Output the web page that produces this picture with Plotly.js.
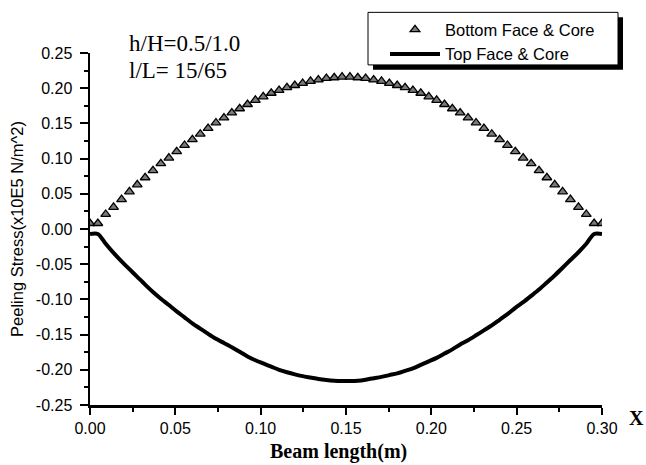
<!DOCTYPE html>
<html>
<head>
<meta charset="utf-8">
<script src="https://cdn.plot.ly/plotly-3.0.1.min.js"></script>
<style>html,body{margin:0;padding:0;background:#fff;}#chart{width:646px;height:465px;}</style>
</head>
<body>
<div id="chart"></div>
<script>
var beamX = [0, 0.0046, 0.0092, 0.0138, 0.0185, 0.0231, 0.0277, 0.0323, 0.0369, 0.0415, 0.0462, 0.0508, 0.0554, 0.0600, 0.0646, 0.0692, 0.0738, 0.0785, 0.0831, 0.0877, 0.0923, 0.0969, 0.1015, 0.1062, 0.1108, 0.1154, 0.1200, 0.1246, 0.1292, 0.1338, 0.1385, 0.1431, 0.1477, 0.1523, 0.1569, 0.1615, 0.1662, 0.1708, 0.1754, 0.1800, 0.1846, 0.1892, 0.1938, 0.1985, 0.2031, 0.2077, 0.2123, 0.2169, 0.2215, 0.2262, 0.2308, 0.2354, 0.2400, 0.2446, 0.2492, 0.2538, 0.2585, 0.2631, 0.2677, 0.2723, 0.2769, 0.2815, 0.2862, 0.2908, 0.2954, 0.3000];

var bottomFaceCore = [0.008, 0.008, 0.021, 0.031, 0.042, 0.053, 0.063, 0.073, 0.083, 0.093, 0.101, 0.110, 0.119, 0.127, 0.135, 0.143, 0.151, 0.158, 0.165, 0.171, 0.177, 0.183, 0.188, 0.193, 0.197, 0.201, 0.204, 0.207, 0.210, 0.212, 0.214, 0.215, 0.216, 0.216, 0.215, 0.214, 0.212, 0.210, 0.207, 0.204, 0.201, 0.197, 0.193, 0.188, 0.183, 0.177, 0.171, 0.165, 0.158, 0.151, 0.143, 0.135, 0.127, 0.119, 0.110, 0.101, 0.093, 0.083, 0.073, 0.063, 0.053, 0.042, 0.031, 0.021, 0.008, 0.008];

var topFaceCore = [-0.007, -0.007, -0.021, -0.034, -0.046, -0.057, -0.068, -0.079, -0.0895, -0.099, -0.108, -0.117, -0.1255, -0.134, -0.1415, -0.149, -0.156, -0.162, -0.168, -0.1745, -0.181, -0.1865, -0.191, -0.1955, -0.200, -0.2035, -0.2065, -0.209, -0.211, -0.213, -0.2145, -0.2155, -0.216, -0.216, -0.2155, -0.214, -0.212, -0.210, -0.2075, -0.205, -0.2015, -0.198, -0.193, -0.188, -0.183, -0.177, -0.171, -0.164, -0.158, -0.151, -0.144, -0.137, -0.129, -0.121, -0.112, -0.104, -0.095, -0.086, -0.076, -0.066, -0.055, -0.044, -0.033, -0.021, -0.007, -0.007];

var xTickVals = [0, 0.05, 0.10, 0.15, 0.20, 0.25, 0.30];
var xTickText = ['0.00', '0.05', '0.10', '0.15', '0.20', '0.25', '0.30'];
var yTickVals = [-0.25, -0.20, -0.15, -0.10, -0.05, 0, 0.05, 0.10, 0.15, 0.20, 0.25];
var yTickText = ['-0.25', '-0.20', '-0.15', '-0.10', '-0.05', '0.00', '0.05', '0.10', '0.15', '0.20', '0.25'];
var seriesNames = ['Bottom Face & Core', 'Top Face & Core'];

var traces = [
  {
    x: beamX, y: bottomFaceCore, name: seriesNames[0], type: 'scatter', mode: 'markers',
    marker: {symbol: 'triangle-up', size: 8.5, color: '#7a7a7a', line: {color: '#000', width: 1.3}}
  },
  {
    x: beamX, y: topFaceCore, name: seriesNames[1], type: 'scatter', mode: 'lines',
    line: {color: '#000', width: 4, shape: 'spline', smoothing: 0.8}
  }
];

function px2x(p) { return (p - 90) / 512; }
function py2y(p) { return (405 - p) / 355; }

var layout = {
  width: 646, height: 465,
  margin: {l: 90, r: 44, t: 50, b: 60, pad: 0},
  paper_bgcolor: '#fff', plot_bgcolor: '#fff',
  font: {family: 'Liberation Sans, Arial, sans-serif', color: '#000', size: 16},
  showlegend: true,
  legend: {
    x: px2x(385), y: py2y(9), xanchor: 'left', yanchor: 'top',
    bgcolor: 'rgba(0,0,0,0)', borderwidth: 0, itemwidth: 50,
    font: {family: 'Liberation Sans, Arial, sans-serif', size: 16.5, color: '#000'}
  },
  xaxis: {
    range: [0, 0.30], tickvals: xTickVals, ticktext: xTickText,
    showgrid: false, zeroline: false, showline: true, linecolor: '#000', linewidth: 2.5,
    ticks: 'outside', ticklen: 7, tickwidth: 2, tickcolor: '#000',
    minor: {dtick: 0.025, ticks: 'outside', ticklen: 4, tickwidth: 2, tickcolor: '#000', showgrid: false},
    tickfont: {size: 16, color: '#000'}
  },
  yaxis: {
    range: [-0.25, 0.25], tickvals: yTickVals, ticktext: yTickText,
    showgrid: false, zeroline: false, showline: true, linecolor: '#000', linewidth: 2.5,
    ticks: 'outside', ticklen: 8, tickwidth: 2, tickcolor: '#000', ticklabelstandoff: 4,
    minor: {dtick: 0.025, ticks: 'outside', ticklen: 4, tickwidth: 2, tickcolor: '#000', showgrid: false},
    tickfont: {size: 16, color: '#000'},
    title: {text: 'Peeling Stress(x10E5 N/m^2)', font: {family: 'Liberation Sans, Arial, sans-serif', size: 16.5, color: '#000'}, standoff: 8}
  },
  shapes: [
    {type: 'rect', xref: 'paper', yref: 'paper', x0: px2x(373), x1: px2x(623), y0: py2y(14), y1: py2y(67), fillcolor: '#000', line: {width: 0}, layer: 'below'},
    {type: 'rect', xref: 'paper', yref: 'paper', x0: px2x(368), x1: px2x(618), y0: py2y(9), y1: py2y(62), fillcolor: '#fff', line: {color: '#000', width: 1}, layer: 'below'}
  ],
  annotations: [
    {xref: 'paper', yref: 'paper', x: px2x(127), y: py2y(40), xanchor: 'left', yanchor: 'middle', showarrow: false,
     text: 'h/H=0.5/1.0', font: {family: 'Liberation Serif, Times New Roman, serif', size: 23, color: '#000'}},
    {xref: 'paper', yref: 'paper', x: px2x(127), y: py2y(68), xanchor: 'left', yanchor: 'middle', showarrow: false,
     text: 'l/L= 15/65', font: {family: 'Liberation Serif, Times New Roman, serif', size: 23, color: '#000'}},
    {xref: 'paper', yref: 'paper', x: px2x(338.5), y: py2y(452), xanchor: 'center', yanchor: 'middle', showarrow: false,
     text: '<b>Beam length(m)</b>', font: {family: 'Liberation Serif, Times New Roman, serif', size: 20, color: '#000'}},
    {xref: 'paper', yref: 'paper', x: px2x(636), y: py2y(418), xanchor: 'center', yanchor: 'middle', showarrow: false,
     text: '<b>X</b>', font: {family: 'Liberation Serif, Times New Roman, serif', size: 20, color: '#000'}}
  ]
};

Plotly.newPlot('chart', traces, layout, {displayModeBar: false, staticPlot: true});
</script>
</body>
</html>
